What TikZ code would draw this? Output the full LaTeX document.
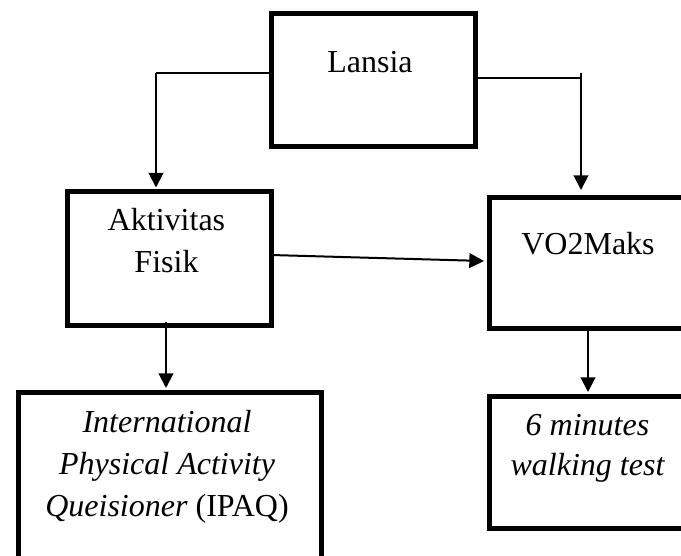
\documentclass[tikz,border=0pt]{standalone}
\usepackage{fontspec}
\setmainfont{Liberation Serif}
\usetikzlibrary{arrows.meta}
\begin{document}
\begin{tikzpicture}[x=0.75pt,y=-0.75pt,
  boxst/.style={draw=black,line width=3.75pt,fill=none,inner sep=0pt},
  txt/.style={font=\fontsize{24}{29}\selectfont,anchor=base,inner sep=0pt},
  conn/.style={draw=black,line width=1.5pt,-{Triangle[width=11pt,length=11pt]}},
  plain/.style={draw=black,line width=1.5pt}]
\useasboundingbox (0,0) rectangle (681,556);
\clip (0,0) rectangle (681,556);
% boxes
\node[boxst,minimum width=153pt,minimum height=99.75pt,anchor=north west] (Lansia) at (268.5,11.5) {};
\node[boxst,minimum width=153pt,minimum height=100.5pt,anchor=north west] (Aktiv) at (64.5,188.5) {};
\node[boxst,minimum width=165pt,minimum height=98.25pt,anchor=north west] (VO2) at (486.5,194.5) {};
\node[boxst,minimum width=165pt,minimum height=99pt,anchor=north west] (Walk) at (486.5,393.5) {};
\node[boxst,minimum width=227.6pt,minimum height=150pt,anchor=north west] (IPAQ) at (16,390) {};
% texts
\node[txt] (tLansia) at (370,73) {Lansia};
\node[txt] (tAkt1) at (166.5,230) {Aktivitas};
\node[txt] (tAkt2) at (166.5,272) {Fisik};
\node[txt] (tVO2) at (588,254) {VO2Maks};
\node[txt] (tW1) at (587.5,435) {\itshape 6 minutes};
\node[txt] (tW2) at (587.5,475) {\itshape walking test};
\node[txt] (tI1) at (167,432) {\itshape International};
\node[txt] (tI2) at (167,474) {\itshape Physical Activity};
\node[txt] (tI3) at (167,516) {\itshape Queisioner\/ \upshape(IPAQ)};
% connector coordinates
\coordinate (lA) at (Lansia.west |- 0,73);
\coordinate (lB) at (156,73);
\coordinate (lC) at (156,187.5);
\coordinate (rA) at (Lansia.east |- 0,78);
\coordinate (rB) at (582,78);
\coordinate (rT) at (581,73);
\coordinate (rC) at (581,190);
\coordinate (aS) at (271,255);
\coordinate (aE) at (484,261);
\coordinate (dS) at (166,322);
\coordinate (dE) at (166,388);
\coordinate (vS) at (588,326);
\coordinate (vE) at (588,392);
% connectors
\draw[plain] (lA) -- (lB);
\draw[conn] (lB) -- (lC);
\draw[plain] (rA) -- (rB);
\draw[conn] (rT) -- (rC);
\draw[conn] (aS) -- (aE);
\draw[conn] (dS) -- (dE);
\draw[conn] (vS) -- (vE);
\end{tikzpicture}
\end{document}
